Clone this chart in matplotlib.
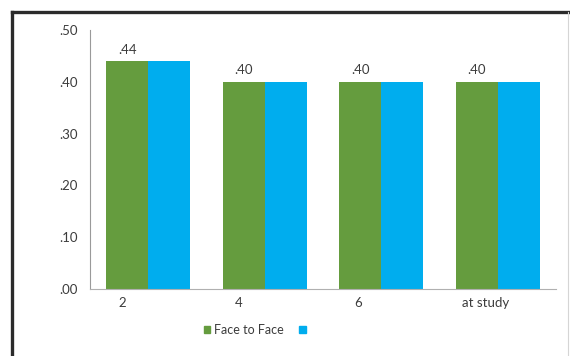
import numpy as np
import matplotlib
matplotlib.use('Agg')
import matplotlib.pyplot as plt
from matplotlib.patches import Patch
from matplotlib.lines import Line2D

# values
categories = ['2', '4', '6', 'at study']
face_to_face = [0.44, 0.40, 0.40, 0.40]
other = [0.44, 0.40, 0.40, 0.40]
value_labels = ['.44', '.40', '.40', '.40']
yticks = [0.0, 0.1, 0.2, 0.3, 0.4, 0.5]
ytick_labels = ['.00', '.10', '.20', '.30', '.40', '.50']

green = '#659c3e'
blue = '#00adee'
txt = '#3c3c3c'

plt.rcParams['font.family'] = ['Lato', 'DejaVu Sans']

fig = plt.figure(figsize=(5.7, 3.56), dpi=100)
ax = fig.add_axes([90/570, 1-289/356, 466/570, 259/356])

x = np.arange(len(categories))
w = 0.36
ax.bar(x - w/2, face_to_face, w, color=green, label='Face to Face')
ax.bar(x + w/2, other, w, color=blue)

for xi, v, lab in zip(x, face_to_face, value_labels):
    ax.annotate(lab, (xi - w/2, v), xytext=(0, 4), textcoords='offset points',
                ha='center', va='bottom', fontsize=9.5, color=txt)

ax.set_xlim(-0.5, len(categories) - 0.5)
ax.set_ylim(0, 0.5)
ax.set_yticks(yticks)
ax.set_yticklabels(ytick_labels)
# category labels sit left of the group centre, as in the source
label_shift = [-0.22, -0.22, -0.2, -0.1]
ax.set_xticks(x + np.array(label_shift))
ax.set_xticklabels(categories)
ax.tick_params(axis='both', length=0, labelsize=9.5, colors=txt)
ax.tick_params(axis='y', pad=9)
ax.tick_params(axis='x', pad=6)

for s in ['top', 'right']:
    ax.spines[s].set_visible(False)
ax.spines['left'].set_color('#9a9a9a')
ax.spines['bottom'].set_color('#b0b0b0')
ax.spines['left'].set_linewidth(0.8)
ax.spines['bottom'].set_linewidth(0.8)

handles = [Patch(color=green), Patch(color=blue)]
fig.legend(handles, ['Face to Face', ''], loc='center', bbox_to_anchor=(0.45, 1-330/356),
           ncol=2, frameon=False, fontsize=9, handlelength=0.55, handleheight=0.55,
           handletextpad=0.3, columnspacing=1.2, labelcolor=txt)

# outer frame of the cropped chart
fig.add_artist(Line2D([12/570, 1], [1-12/356, 1-12/356], color='#2b2b2b', lw=2.4))
fig.add_artist(Line2D([12/570, 12/570], [0, 1-12/356], color='#2b2b2b', lw=2.4))
fig.add_artist(Line2D([568/570, 568/570], [0, 1-12/356], color='#d5d5d5', lw=0.8))

plt.savefig('out.png', dpi=100)
